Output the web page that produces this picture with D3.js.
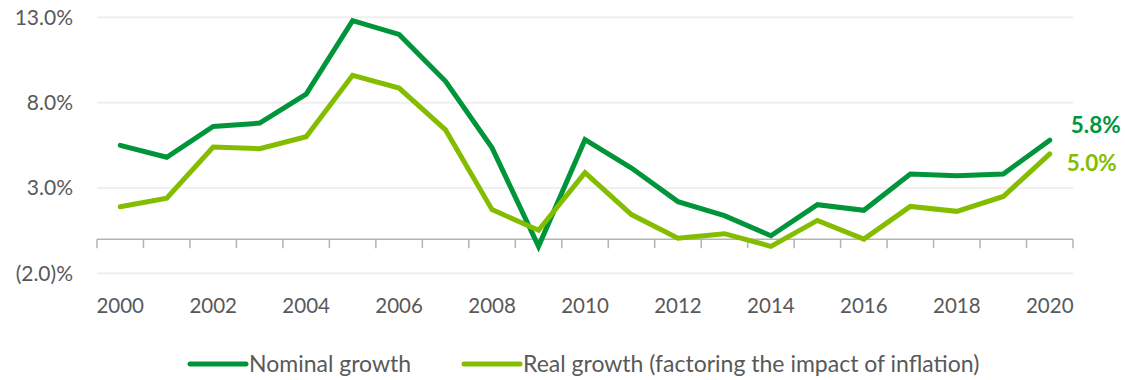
<!DOCTYPE html>
<html>
<head>
<meta charset="utf-8">
<script src="https://cdn.jsdelivr.net/npm/d3@7"></script>
<style>
  html, body { margin: 0; padding: 0; background: #fff; }
  svg { display: block; font-family: Lato, "Open Sans", sans-serif; }
</style>
</head>
<body>
<svg id="chart" width="1125" height="380"></svg>
<script>
// Annual growth, 2000–2020 (percent)
const years = d3.range(2000, 2021).map(String);
const nominalGrowth = [5.5, 4.8, 6.6, 6.8, 8.5, 12.8, 12.0, 9.25, 5.35, -0.42, 5.83, 4.17, 2.2, 1.38, 0.2, 2.02, 1.69, 3.82, 3.72, 3.82, 5.8];
const realGrowth    = [1.9, 2.4, 5.4, 5.3, 6.0, 9.6, 8.85, 6.4, 1.73, 0.52, 3.9, 1.44, 0.05, 0.32, -0.42, 1.1, 0.0, 1.92, 1.63, 2.5, 5.0];
const yTicks = [-2, 3, 8, 13];
const xLabelYears = years.filter((d, i) => i % 2 === 0);
const seriesNames = ["Nominal growth", "Real growth (factoring the impact of inflation)"];
const colors = ["#00953a", "#84bd00"];

const svg = d3.select("#chart");
const left = 97, right = 1073;

const x = d3.scaleBand().domain(years).range([left, right]);
const y = d3.scaleLinear().domain([-2, 13]).range([273.3, 17.3]);
const cx = d => x(d) + x.bandwidth() / 2;

const fmt = v => v < 0 ? `(${Math.abs(v).toFixed(1)})%` : `${v.toFixed(1)}%`;

// Horizontal gridlines
svg.append("g")
  .selectAll("line")
  .data(yTicks)
  .join("line")
  .attr("x1", left).attr("x2", right)
  .attr("y1", d => y(d)).attr("y2", d => y(d))
  .attr("stroke", "#efefef")
  .attr("stroke-width", 2);

// Y-axis labels
svg.append("g")
  .selectAll("text")
  .data(yTicks)
  .join("text")
  .attr("x", 73)
  .attr("y", d => y(d) + 7.5)
  .attr("text-anchor", "end")
  .attr("fill", "#595959")
  .attr("font-size", 21)
  .text(fmt);

// Zero baseline with band-edge ticks
const xAxis = d3.axisBottom(x).tickSize(0).tickFormat("");
const gx = svg.append("g")
  .attr("transform", `translate(0,${y(0)})`)
  .call(xAxis);
gx.select(".domain").attr("stroke", "#b3b3b3").attr("stroke-width", 1.5).attr("d", `M${left},0H${right}`);
gx.selectAll(".tick").remove();
gx.selectAll("line.edge")
  .data(years.concat(["end"]))
  .join("line")
  .attr("class", "edge")
  .attr("x1", (d, i) => left + i * x.bandwidth())
  .attr("x2", (d, i) => left + i * x.bandwidth())
  .attr("y1", 0).attr("y2", 9)
  .attr("stroke", "#b3b3b3")
  .attr("stroke-width", 1.5);

// X labels every second year
svg.append("g")
  .selectAll("text")
  .data(xLabelYears)
  .join("text")
  .attr("x", d => cx(d))
  .attr("y", 313)
  .attr("text-anchor", "middle")
  .attr("fill", "#595959")
  .attr("font-size", 20.5)
  .text(d => d);

// Series lines
const line = d3.line().x((d, i) => cx(years[i])).y(d => y(d));
[nominalGrowth, realGrowth].forEach((vals, k) => {
  svg.append("path")
    .datum(vals)
    .attr("d", line)
    .attr("fill", "none")
    .attr("stroke", colors[k])
    .attr("stroke-width", 5)
    .attr("stroke-linecap", "round")
    .attr("stroke-linejoin", "miter");
});

// End-of-series value labels
const lastIdx = years.length - 1;
const endLabels = [
  { v: nominalGrowth[lastIdx], dy: -7, dx: 21, c: colors[0] },
  { v: realGrowth[lastIdx], dy: 17, dx: 17, c: colors[1] }
];
svg.append("g")
  .selectAll("text")
  .data(endLabels)
  .join("text")
  .attr("x", d => cx(years[lastIdx]) + d.dx)
  .attr("y", d => y(d.v) + d.dy)
  .attr("fill", d => d.c)
  .attr("font-size", 22.5)
  .attr("font-weight", "bold")
  .text(d => `${d.v.toFixed(1)}%`);

// Legend
const legendItems = [
  { name: seriesNames[0], c: colors[0], x0: 190 },
  { name: seriesNames[1], c: colors[1], x0: 464 }
];
const lg = svg.append("g");
legendItems.forEach(it => {
  lg.append("line")
    .attr("x1", it.x0).attr("x2", it.x0 + 56)
    .attr("y1", 364).attr("y2", 364)
    .attr("stroke", it.c)
    .attr("stroke-width", 5)
    .attr("stroke-linecap", "round");
  lg.append("text")
    .attr("x", it.x0 + 59)
    .attr("y", 372)
    .attr("fill", "#595959")
    .attr("font-size", 23)
    .text(it.name);
});
</script>
</body>
</html>
